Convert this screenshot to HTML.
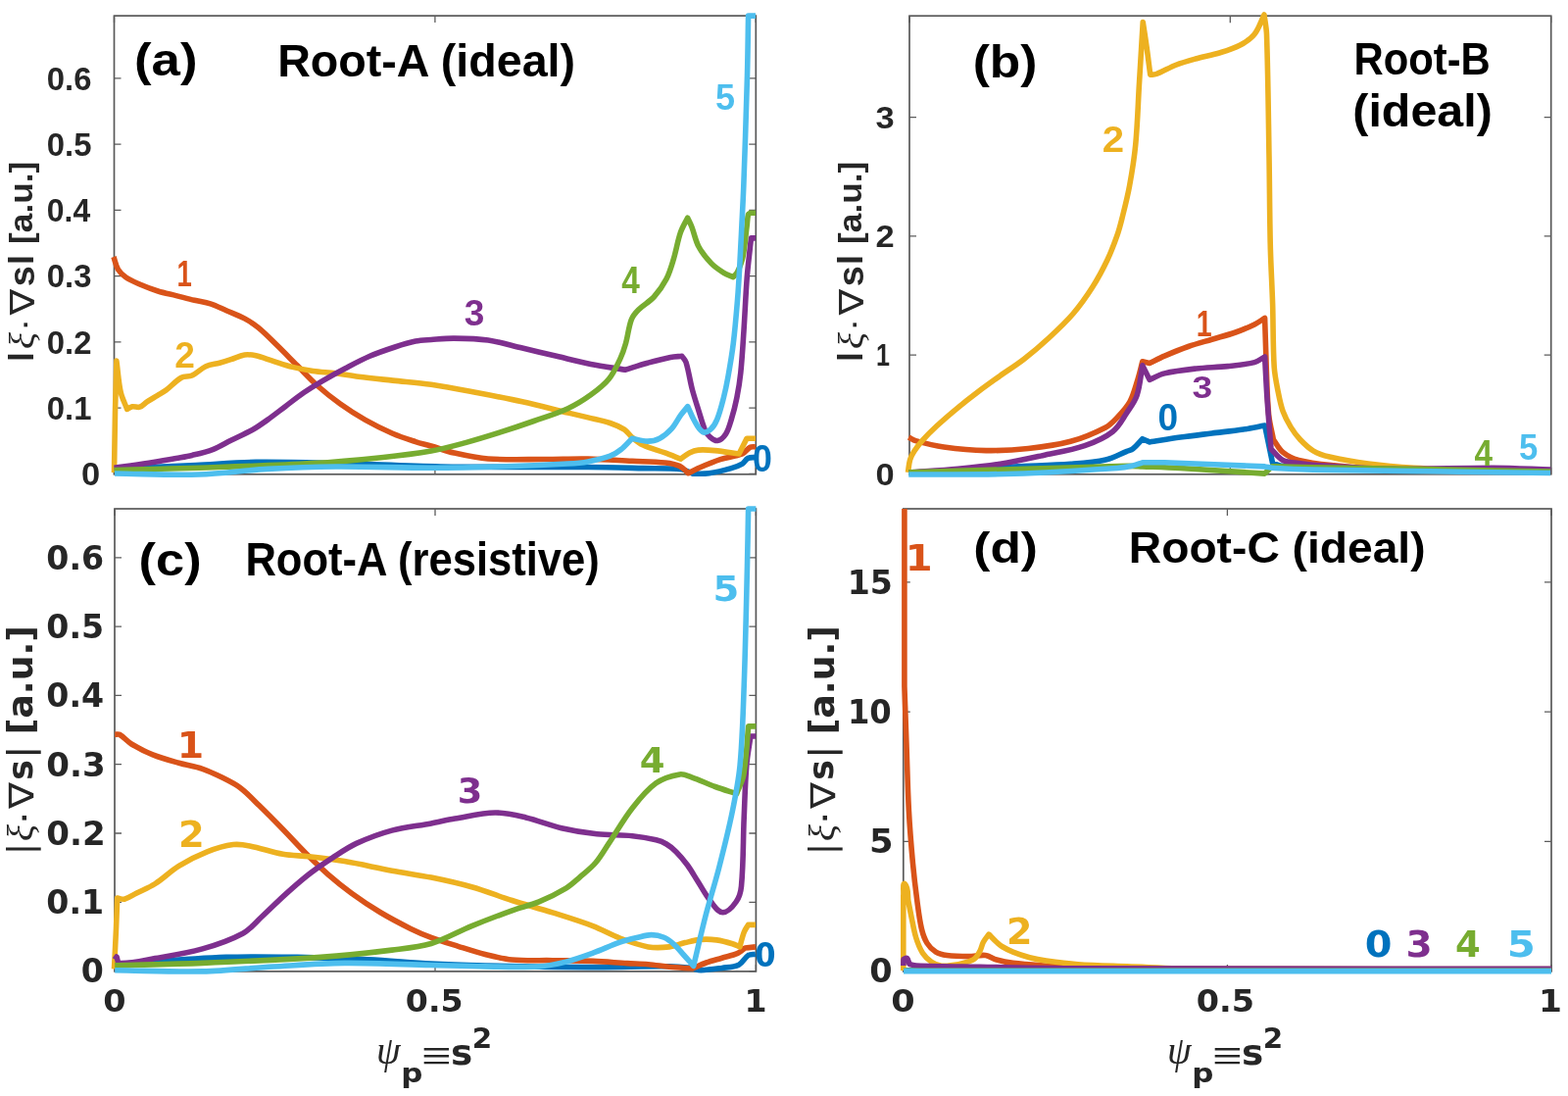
<!DOCTYPE html><html><head><meta charset='utf-8'><title>Figure</title><style>html,body{margin:0;padding:0;background:#fff;}svg{display:block;}</style></head><body>
<svg width='1600' height='1118' viewBox='0 0 1600 1118'>
<rect width='1600' height='1118' fill='#fff'/>
<path d='M116.5 483.3h7 M771.3 483.3h-7 M116.5 416.05h7 M771.3 416.05h-7 M116.5 348.8h7 M771.3 348.8h-7 M116.5 281.55h7 M771.3 281.55h-7 M116.5 214.3h7 M771.3 214.3h-7 M116.5 147.05h7 M771.3 147.05h-7 M116.5 79.8h7 M771.3 79.8h-7 M116.5 483.8v-7 M116.5 16.1v7 M443.9 483.8v-7 M443.9 16.1v7 M771.3 483.8v-7 M771.3 16.1v7' stroke='#5c5c5c' stroke-width='1.3' fill='none'/>
<rect x='116.5' y='16.1' width='654.8' height='467.7' fill='none' stroke='#595959' stroke-width='1.7'/>
<g fill='none' stroke-linejoin='round' stroke-linecap='butt' stroke-width='5.6'>
<path d='M116.5 478.4 C144.33 477.1 172.17 475.85 200 474.5 C220.4 473.51 240.78 471.67 261.2 471.4 C288.33 471.04 315.47 471.94 342.6 472.6 C378.24 473.47 413.85 475.46 449.5 476 C499.66 476.76 549.83 476.11 600 476.5 C618.74 476.65 637.47 477.17 656.2 477.6 C669.33 477.9 682.54 477.26 695.6 478.7 C699.63 479.15 703.13 481.7 706.9 483.2 C712.5 483.03 718.15 483.49 723.7 482.7 C731.31 481.62 738.8 479.7 746.2 477.6 C750.1 476.49 754.02 475.18 757.5 473.1 C759.77 471.75 760.74 468.67 763.1 467.5 C765.48 466.32 768.37 466.77 771 466.4' stroke='#0072BD'/>
<path d='M116 262 C117.5 266.3 118.16 270.99 120.5 274.9 C122.46 278.17 125.45 280.85 128.6 283 C132.91 285.94 137.81 287.94 142.6 290 C148.69 292.61 154.88 295.03 161.2 297 C167.3 298.9 173.6 300.05 179.8 301.6 C186 303.15 192.17 304.84 198.4 306.3 C203.81 307.57 209.41 308.11 214.7 309.8 C220.29 311.59 225.52 314.36 230.9 316.7 C237.12 319.4 243.53 321.7 249.5 324.9 C254.44 327.55 259.17 330.64 263.5 334.2 C270.04 339.57 275.93 345.7 282 351.6 C289.1 358.5 295.99 365.61 303 372.6 C309.99 379.58 316.63 386.93 324 393.5 C331.38 400.08 339.15 406.25 347.2 412 C355.44 417.9 363.98 423.41 372.8 428.4 C381.84 433.52 391.17 438.17 400.7 442.3 C408.26 445.58 416.15 448.06 424 450.6 C429.26 452.3 434.69 453.46 440 455 C447.79 457.26 455.39 460.23 463.3 462 C474.75 464.57 486.29 467.18 498 468 C517.39 469.35 536.87 468.48 556.3 468.5 C570.87 468.51 585.44 467.8 600 468.1 C615.01 468.4 630 469.56 645 470.3 C656.23 470.86 667.51 470.82 678.7 472 C683.7 472.53 688.82 473.33 693.4 475.4 C696.92 476.99 699.4 480.27 702.4 482.7 C705.77 481 709.04 479.1 712.5 477.6 C719.91 474.39 727.32 471.09 735 468.6 C742.35 466.21 750.34 465.92 757.5 463 C760.72 461.69 762.34 457.85 765.4 456.2 C767.05 455.31 769.13 455.87 771 455.7' stroke='#D95319'/>
<path d='M116.5 482 C116.83 461.33 117.06 440.66 117.5 420 C117.86 402.66 118.43 385.33 118.9 368 C120.33 378.73 120.89 389.62 123.2 400.2 C124.51 406.19 127.53 411.67 129.7 417.4 C131.47 416.53 133.06 415.13 135 414.8 C137.5 414.37 140.19 415.99 142.6 415.2 C145.48 414.26 147.45 411.55 150 409.9 C153.53 407.61 157.22 405.6 160.8 403.4 C163.69 401.63 166.69 400.03 169.4 398 C174.78 393.96 179.14 388.5 185 385.2 C188.26 383.36 192.6 384.56 196 383 C201.09 380.66 204.9 376.03 210 373.7 C214.37 371.7 219.36 371.47 224 370.2 C227.9 369.13 231.76 367.94 235.6 366.7 C240.26 365.2 244.66 362.74 249.5 362 C253.36 361.41 257.38 361.99 261.2 362.8 C266.74 363.97 272 366.21 277.4 367.9 C284.4 370.08 291.29 372.62 298.4 374.4 C305.28 376.12 312.28 377.4 319.3 378.4 C327.03 379.5 334.86 379.73 342.6 380.7 C350.36 381.67 358.04 383.21 365.8 384.2 C377.41 385.68 389.06 386.83 400.7 388.1 C413.8 389.53 426.96 390.42 440 392.3 C455.58 394.55 471.03 397.59 486.5 400.5 C502.03 403.42 517.56 406.4 533 409.8 C548.57 413.23 564 417.27 579.5 421 C586.33 422.64 593.17 424.23 600 425.9 C607.51 427.73 615.16 429.07 622.5 431.5 C627.58 433.19 632.61 435.29 637.1 438.2 C640.22 440.23 642.13 443.73 645 446.1 C648.52 449.01 652.06 452.06 656.2 454 C663.4 457.37 671.24 459.15 678.7 461.9 C684.01 463.85 689.23 466.03 694.5 468.1 C697.5 466.03 700.24 463.53 703.5 461.9 C706.31 460.49 709.37 459.38 712.5 459.1 C718.11 458.6 723.79 459.07 729.4 459.6 C737.67 460.38 745.87 461.87 754.1 463 L762 447.2 L771 447.2' stroke='#EDB120'/>
<path d='M116.5 477.2 C122.1 476.43 127.71 475.71 133.3 474.9 C141.04 473.78 148.78 472.65 156.5 471.4 C164.28 470.15 172.04 468.78 179.8 467.4 C185.21 466.44 190.66 465.66 196 464.4 C203.07 462.73 210.21 461.19 217 458.6 C223.48 456.13 229.4 452.4 235.6 449.3 C243.33 445.43 251.26 441.94 258.8 437.7 C263.68 434.96 268.24 431.66 272.8 428.4 C279.11 423.89 285.19 419.06 291.4 414.4 C297.59 409.76 303.62 404.89 310 400.5 C316.03 396.35 322.28 392.5 328.6 388.8 C336.25 384.33 344.05 380.1 351.9 376 C360.32 371.6 368.68 367.06 377.4 363.3 C385.74 359.71 394.37 356.82 403 354 C409.91 351.75 416.87 349.54 424 348.1 C429.25 347.04 434.66 346.91 440 346.5 C447.76 345.91 455.52 345.03 463.3 345.1 C474.92 345.2 486.6 345.35 498.1 347 C509.92 348.7 521.37 352.38 533 355.1 C544.64 357.82 556.26 360.58 567.9 363.3 C579.53 366.02 591.09 369.07 602.8 371.4 C614.37 373.7 626.07 375.27 637.7 377.2 C645.43 374.87 653.11 372.34 660.9 370.2 C668.62 368.08 676.35 365.95 684.2 364.4 C688.01 363.65 691.93 363.67 695.8 363.3 C697.2 365.37 699.26 367.12 700 369.5 C702.83 378.61 703.98 388.17 706.4 397.4 C708.29 404.61 710.67 411.69 712.9 418.8 C714.94 425.29 716.61 431.91 719.2 438.2 C720.24 440.71 721.65 443.22 723.7 445 C726.12 447.1 729.02 449.93 732.2 449.5 C735.77 449.01 738.63 445.71 740.6 442.7 C743.45 438.34 744.68 433.09 746.2 428.1 C748.45 420.7 750.38 413.19 751.9 405.6 C753.58 397.2 754.91 388.72 755.8 380.2 C757.28 365.94 758.05 351.61 759 337.3 C760.19 319.41 760.85 301.48 762.2 283.6 C763.01 272.87 764.37 262.2 765.5 251.5 C765.8 248.63 766.17 245.77 766.5 242.9 L771 242.9' stroke='#7E2F8E'/>
<path d='M116.5 479.5 C145.33 478.73 174.17 478.18 203 477.2 C241.77 475.88 280.56 474.79 319.3 472.6 C342.58 471.29 365.81 469.12 389 466.7 C406.05 464.92 423.11 462.97 440 460 C451.78 457.93 463.35 454.71 474.9 451.6 C486.62 448.44 498.23 444.86 509.8 441.2 C521.5 437.5 533.12 433.57 544.7 429.5 C556.36 425.4 568.27 421.86 579.5 416.7 C587.72 412.92 595.46 408.09 602.8 402.8 C609.49 397.98 616.2 392.9 621.4 386.5 C626.42 380.31 629.6 372.81 633 365.6 C635.36 360.6 637.09 355.31 638.6 350 C640.86 342.06 641.38 333.62 644.3 325.9 C645.75 322.06 648.6 318.8 651.5 315.9 C656.29 311.11 662.65 308.01 667.2 303 C672.27 297.41 676.62 291.09 680.1 284.4 C683.37 278.12 685.25 271.18 687.3 264.4 C690.02 255.43 691.39 246.07 694.4 237.2 C696.18 231.95 699.2 227.2 701.6 222.2 C703.03 225.3 704.67 228.31 705.9 231.5 C708.44 238.09 709.56 245.28 712.9 251.5 C716.27 257.79 720.86 263.45 725.8 268.6 C729.51 272.46 734.05 275.47 738.6 278.3 C741.6 280.17 745.07 281.17 748.3 282.6 C749.73 280.8 751.61 279.28 752.6 277.2 C754.88 272.4 756.94 267.41 758 262.2 C760.16 251.59 760.82 240.74 762.2 230 C762.69 226.2 762.51 222.27 763.6 218.6 C763.86 217.71 765.2 217.67 766 217.2 L771 217.2' stroke='#77AC30'/>
<path d='M117 483 C145.67 483.33 174.34 484.85 203 484 C226.33 483.31 249.5 479.74 272.8 478.4 C296.04 477.07 319.32 476.17 342.6 476 C375.07 475.77 407.53 477.2 440 477.2 C463.27 477.2 486.54 476.7 509.8 476 C533.04 475.3 556.28 474.31 579.5 473 C586.36 472.61 593.24 472.13 600 470.9 C607.61 469.52 615.24 467.87 622.5 465.2 C626.58 463.7 630.3 461.22 633.7 458.5 C637.86 455.17 641.23 450.97 645 447.2 C650.23 448.17 655.38 450.1 660.7 450.1 C664.94 450.1 669.34 449.17 673.1 447.2 C677.82 444.72 681.92 441.05 685.5 437.1 C689.13 433.09 691.33 427.98 694.5 423.6 C696.77 420.47 699.37 417.6 701.8 414.6 C703.87 419.1 705.49 423.83 708 428.1 C710.59 432.5 712.62 437.88 717 440.5 C719.35 441.91 722.81 439.98 724.9 438.2 C727.98 435.58 730.05 431.83 731.6 428.1 C734.6 420.86 736.43 413.18 738.4 405.6 C740.2 398.64 741.63 391.58 742.9 384.5 C744.94 373.11 746.9 361.69 748.3 350.2 C750.13 335.21 751.35 320.15 752.6 305.1 C753.49 294.38 754.09 283.64 754.7 272.9 C755.52 258.6 756.19 244.3 756.9 230 C757.56 216.67 758.31 203.34 758.8 190 C760.18 152.34 761.46 114.67 762.5 77 C763.06 56.7 763.23 36.4 763.6 16.1 L771 16.1' stroke='#4DBEEE'/>
</g>
<path d='M928 483.3h7 M1582.7 483.3h-7 M928 362.05h7 M1582.7 362.05h-7 M928 240.8h7 M1582.7 240.8h-7 M928 119.55h7 M1582.7 119.55h-7 M928 483.8v-7 M928 16.2v7 M1255.3 483.8v-7 M1255.3 16.2v7 M1582.7 483.8v-7 M1582.7 16.2v7' stroke='#5c5c5c' stroke-width='1.3' fill='none'/>
<rect x='928' y='16.2' width='654.7' height='467.6' fill='none' stroke='#595959' stroke-width='1.7'/>
<g fill='none' stroke-linejoin='round' stroke-linecap='butt' stroke-width='5.6'>
<path d='M928 482.5 C963.63 480.37 999.26 478.09 1034.9 476.1 C1054.06 475.03 1073.27 474.75 1092.4 473.3 C1104.42 472.39 1116.54 471.66 1128.3 469 C1135.87 467.29 1142.7 463.2 1149.9 460.3 C1151.97 459.47 1154.35 459.18 1156.1 457.8 C1159.76 454.9 1162.57 451.07 1165.8 447.7 L1173 450.9 C1183.47 449.3 1193.91 447.57 1204.4 446.1 C1215.12 444.6 1225.86 443.35 1236.6 442 C1247.33 440.65 1258.1 439.59 1268.8 438 C1276.11 436.92 1283.33 435.33 1290.6 434 L1298.6 472.6 C1302.1 473.57 1305.49 475.07 1309.1 475.5 C1319.35 476.71 1329.68 477.27 1340 477.5 C1420.66 479.27 1501.33 480.17 1582 481.5' stroke='#0072BD'/>
<path d='M927.2 446 C929.6 447.2 931.82 448.88 934.4 449.6 C943.84 452.23 953.39 454.65 963.1 456 C977.38 457.99 991.79 459.35 1006.2 459.6 C1020.58 459.85 1035 459.04 1049.3 457.5 C1063.78 455.94 1078.35 454.14 1092.4 450.3 C1104.84 446.9 1116.83 441.78 1128.3 435.9 C1132.87 433.56 1136.48 429.63 1140 425.9 C1144.72 420.9 1149.63 415.85 1152.9 409.8 C1156.69 402.8 1158.51 394.89 1160.9 387.3 C1162.81 381.21 1164.17 374.97 1165.8 368.8 L1173 370.4 C1178.1 367.97 1183.1 365.32 1188.3 363.1 C1196.28 359.69 1204.31 356.37 1212.5 353.5 C1220.42 350.73 1228.56 348.61 1236.6 346.2 C1244.66 343.78 1252.86 341.79 1260.8 339 C1267.38 336.69 1273.83 333.95 1280.1 330.9 C1283.79 329.11 1287.1 326.63 1290.6 324.5 C1291.13 341.13 1291.52 357.77 1292.2 374.4 C1292.86 390.51 1293.04 406.66 1294.6 422.7 C1295.45 431.41 1297.8 439.9 1299.4 448.5 C1302.63 452.8 1304.92 458.01 1309.1 461.4 C1313.76 465.17 1319.4 467.9 1325.2 469.4 C1337.02 472.45 1349.26 473.6 1361.4 474.9 C1380.72 476.97 1400.09 478.65 1419.5 479.5 C1446.31 480.68 1473.16 480.67 1500 481 C1527.33 481.34 1554.67 481.33 1582 481.5' stroke='#D95319'/>
<path d='M926.5 481.9 C927.2 477.6 927.36 473.18 928.6 469 C929.52 465.9 931.14 463.02 932.9 460.3 C935.5 456.29 938.42 452.47 941.6 448.9 C946.1 443.85 950.93 439.09 955.9 434.5 C962.9 428.04 970.16 421.87 977.5 415.8 C984.07 410.37 990.8 405.13 997.6 400 C1004.97 394.45 1012.49 389.1 1020 383.75 C1028.29 377.85 1036.96 372.48 1045 366.25 C1053.64 359.55 1061.97 352.43 1070 345 C1078.65 337 1087.33 328.95 1095 320 C1102.38 311.39 1108.91 302.06 1115 292.5 C1120.61 283.69 1125.51 274.43 1130 265 C1133.86 256.9 1137.01 248.46 1140 240 C1142.02 234.28 1143.53 228.39 1145 222.5 C1147.7 211.71 1150.5 200.94 1152.5 190 C1155.08 175.92 1157.39 161.75 1158.75 147.5 C1160.73 126.72 1161.25 105.83 1162.5 85 C1163.75 64.17 1165 43.33 1166.25 22.5 C1167.5 30.83 1168.84 39.15 1170 47.5 C1171.34 57.07 1172.5 66.67 1173.75 76.25 C1175.83 76 1178.04 76.25 1180 75.5 C1186.86 72.89 1193.15 68.9 1200 66.25 C1206.51 63.73 1213.27 61.87 1220 60 C1228.28 57.7 1236.79 56.26 1245 53.75 C1251.81 51.67 1258.72 49.61 1265 46.25 C1270.51 43.3 1276.1 39.88 1280 35 C1284.66 29.18 1286.67 21.67 1290 15 C1290.83 21.67 1292.27 28.29 1292.5 35 C1293.94 76.65 1294.27 118.33 1295 160 C1295.52 190 1295.53 220.01 1296.25 250 C1296.73 270.01 1297.96 289.99 1298.6 310 C1299.28 331.46 1298.85 352.97 1300.2 374.4 C1300.75 383.09 1302.61 391.66 1304.3 400.2 C1305.58 406.7 1306.85 413.27 1309.1 419.5 C1311.14 425.14 1313.98 430.48 1317.1 435.6 C1319.9 440.19 1323.1 444.59 1326.8 448.5 C1330.78 452.71 1335 456.87 1340 459.8 C1345.12 462.8 1350.92 464.64 1356.7 466 C1369.75 469.06 1383.01 471.27 1396.3 473 C1411.73 475.01 1427.26 476.33 1442.8 477.2 C1466.04 478.5 1489.33 479.03 1512.6 479.5 C1535.73 479.97 1558.87 479.83 1582 480' stroke='#EDB120'/>
<path d='M927.2 481.9 C943.97 480.7 960.76 479.84 977.5 478.3 C991.9 476.97 1006.31 475.55 1020.6 473.3 C1035.07 471.02 1049.38 467.81 1063.7 464.7 C1078.12 461.57 1092.83 459.37 1106.8 454.6 C1116.93 451.14 1127.06 446.78 1135.5 440.2 C1141.81 435.28 1145.45 427.65 1149.9 421 C1153.67 415.36 1157.98 409.84 1160.1 403.4 C1163.35 393.55 1163.9 383 1165.8 372.8 L1173 387.3 C1178.1 385.17 1182.92 382.18 1188.3 380.9 C1198.86 378.39 1209.71 377.22 1220.5 376 C1231.19 374.79 1242 374.75 1252.7 373.6 C1261.88 372.61 1271.16 371.89 1280.1 369.6 C1283.96 368.61 1287.1 365.8 1290.6 363.9 C1291.4 378.13 1292.03 392.38 1293 406.6 C1294.17 423.78 1295.67 440.93 1297 458.1 C1301.03 461.87 1304.19 466.88 1309.1 469.4 C1313.97 471.9 1319.8 471.74 1325.2 472.6 C1330.1 473.38 1335.04 474 1340 474.3 C1366.49 475.93 1392.97 477.98 1419.5 478.4 C1454.4 478.95 1489.3 477.07 1524.2 477.2 C1543.58 477.27 1562.93 478.4 1582.3 479' stroke='#7E2F8E'/>
<path d='M927.2 481.9 C1001.43 479.73 1075.66 477.27 1149.9 475.4 C1155.2 475.27 1160.5 475.7 1165.8 475.9 C1178.67 476.4 1191.54 476.76 1204.4 477.5 C1233.15 479.16 1261.87 481.23 1290.6 483.1 L1297.8 475.9 C1311.87 476.17 1325.93 476.45 1340 476.7 C1420.67 478.15 1501.33 479.57 1582 481' stroke='#77AC30'/>
<path d='M927.2 484 C963.1 483.77 999.02 484.4 1034.9 483.3 C1069.97 482.23 1105 479.9 1140 477.5 C1145.42 477.13 1150.8 476.17 1156.1 475 C1159.42 474.27 1162.57 472.87 1165.8 471.8 C1173.3 471.8 1180.8 471.55 1188.3 471.8 C1222.41 472.92 1256.5 474.53 1290.6 475.9 C1294.07 476.43 1297.5 477.27 1301 477.5 C1313.98 478.34 1326.99 478.87 1340 479.1 C1420.66 480.54 1501.33 481.37 1582 482.5' stroke='#4DBEEE'/>
</g>
<path d='M117 990.6h7 M771.4 990.6h-7 M117 920.3h7 M771.4 920.3h-7 M117 850h7 M771.4 850h-7 M117 779.7h7 M771.4 779.7h-7 M117 709.4h7 M771.4 709.4h-7 M117 639.1h7 M771.4 639.1h-7 M117 568.8h7 M771.4 568.8h-7 M117 990.9v-7 M117 519v7 M444 990.9v-7 M444 519v7 M771.4 990.9v-7 M771.4 519v7' stroke='#5c5c5c' stroke-width='1.3' fill='none'/>
<rect x='117' y='519' width='654.4' height='471.9' fill='none' stroke='#595959' stroke-width='1.7'/>
<g fill='none' stroke-linejoin='round' stroke-linecap='butt' stroke-width='5.6'>
<path d='M117.2 983.6 C155.07 981.2 192.89 977.87 230.8 976.4 C254.92 975.47 279.07 976 303.2 976.4 C327.38 976.8 351.55 977.63 375.7 978.8 C397.15 979.84 418.55 981.89 440 983 C458.32 983.95 476.66 984.5 495 985 C517.93 985.63 540.86 986.1 563.8 986.4 C581.2 986.63 598.6 986.69 616 986.6 C638.33 986.49 660.67 985.6 683 985.8 C690.15 985.86 697.3 986.56 704.4 987.4 C708.05 987.83 711.53 989.6 715.2 989.6 C722.4 989.6 729.57 988.4 736.7 987.4 C742.48 986.59 748.65 986.73 753.9 984.2 C758 982.23 759.65 976.93 763.5 974.5 C765.64 973.15 768.5 973.77 771 973.4' stroke='#0072BD'/>
<path d='M117.2 749.3 C118.8 749.3 120.61 748.51 122 749.3 C126.51 751.87 129.76 756.3 134.2 759 C141.12 763.2 148.38 766.9 155.9 769.9 C164.53 773.35 173.56 775.76 182.5 778.3 C190.46 780.56 198.75 781.68 206.6 784.3 C213.3 786.53 219.69 789.64 226 792.8 C232.6 796.11 239.39 799.26 245.3 803.7 C252.35 809 258.28 815.64 264.6 821.8 C272.75 829.75 280.75 837.85 288.7 846 C296.85 854.35 304.64 863.06 312.9 871.3 C319.94 878.33 327.09 885.27 334.6 891.8 C342.4 898.58 350.44 905.12 358.8 911.2 C368.19 918.03 377.84 924.53 387.8 930.5 C398 936.61 408.54 942.13 419.2 947.4 C425.96 950.74 432.93 953.68 440 956.3 C449.04 959.65 458.29 962.42 467.5 965.3 C476.63 968.16 485.72 971.19 495 973.5 C504.07 975.76 513.19 978.16 522.5 979 C536.21 980.24 550.03 979.47 563.8 979.7 C577.53 979.93 591.27 979.88 605 980.4 C616.68 980.84 628.33 981.92 640 982.6 C647.16 983.02 654.35 983.08 661.5 983.7 C668.69 984.32 675.81 985.61 683 986.3 C690.85 987.05 698.73 987.43 706.6 988 C711.27 986 715.82 983.71 720.6 982 C725.87 980.11 731.33 978.8 736.7 977.2 C742.07 975.6 747.66 974.62 752.8 972.4 C755.63 971.18 757.8 968.8 760.3 967 L771 965.9' stroke='#D95319'/>
<path d='M116.5 988.5 C117.17 974.8 117.9 961.1 118.5 947.4 C118.96 936.94 119.3 926.47 119.7 916 C122.1 916.4 124.54 917.79 126.9 917.2 C131.27 916.11 134.97 913.21 139 911.2 C145.44 907.98 152.23 905.38 158.3 901.5 C166.79 896.08 173.92 888.67 182.5 883.4 C191.68 877.76 201.37 872.84 211.4 868.9 C219.96 865.54 228.89 862.86 238 861.6 C243.6 860.83 249.35 861.84 254.9 862.9 C266.3 865.08 277.27 869.26 288.7 871.3 C297.46 872.87 306.46 872.67 315.3 873.7 C327.4 875.11 339.5 876.54 351.5 878.6 C367.71 881.38 383.73 885.19 399.9 888.2 C413.23 890.69 426.71 892.39 440 895.1 C453.86 897.93 467.7 900.94 481.3 904.8 C495.22 908.75 508.7 914.13 522.5 918.5 C536.2 922.84 550.1 926.56 563.8 930.9 C577.6 935.27 591.47 939.47 605 944.6 C614.43 948.18 623.16 953.44 632.6 957 C642.03 960.56 651.57 964.15 661.5 965.9 C668.56 967.15 675.88 966.71 683 965.9 C688.52 965.27 693.69 962.86 699.1 961.6 C704.43 960.36 709.75 958.86 715.2 958.4 C720.55 957.95 725.98 958.19 731.3 958.9 C736.77 959.63 742.11 961.13 747.4 962.7 C750.01 963.47 752.4 964.83 754.9 965.9 C756.33 960.9 757.34 955.76 759.2 950.9 C760.23 948.21 762.07 945.9 763.5 943.4 L771 943.4' stroke='#EDB120'/>
<path d='M117.2 978.8 L119 976 C120 978.13 119.65 982.3 122 982.4 C134.2 982.9 146.27 979.66 158.3 977.6 C174.49 974.83 190.8 972.39 206.6 967.9 C220.71 963.89 234.79 959.17 247.7 952.2 C255.23 948.14 260.69 941.07 267 935.3 C275.19 927.8 282.95 919.83 291.2 912.4 C299.05 905.33 306.95 898.28 315.3 891.8 C323.07 885.77 331.25 880.26 339.5 874.9 C347.36 869.79 355.08 864.32 363.6 860.4 C375.31 855.01 387.45 850.44 399.9 847.1 C413.02 843.58 426.65 842.39 440 839.9 C448.08 838.39 456.09 836.46 464.2 835.1 C477.83 832.82 491.38 829.23 505.2 829 C515.79 828.82 526.28 831.51 536.6 833.9 C548.9 836.75 560.61 841.83 572.9 844.7 C584.82 847.48 596.94 849.46 609.1 850.8 C621.11 852.13 633.28 851.51 645.3 852.7 C653.44 853.51 661.54 854.9 669.5 856.8 C673.17 857.68 676.75 859.08 680 861 C683.66 863.16 687 865.9 690 868.9 C694.2 873.1 698 877.71 701.5 882.5 C705.35 887.76 708.48 893.52 712 899 C716.51 906.02 720.35 913.52 725.6 920 C728.99 924.18 732.32 930.7 737.7 930.7 C743.42 930.7 747.82 924.68 751.1 920 C754.35 915.37 755.97 909.54 756.5 903.9 C758.69 880.75 758.2 857.43 759.2 834.2 C759.97 816.3 760.36 798.36 761.8 780.5 C762.6 770.6 764.53 760.83 765.9 751 L771.2 751' stroke='#7E2F8E'/>
<path d='M117.2 984.8 C147 984 176.81 983.59 206.6 982.4 C246.88 980.79 287.18 979.17 327.4 976.4 C351.63 974.73 375.79 972.08 399.9 969.1 C413.34 967.44 427.03 966.4 440 962.5 C454.37 958.18 467.41 950.27 481.3 944.6 C494.92 939.04 508.66 933.78 522.5 928.8 C531.57 925.54 541.09 923.58 550 919.9 C559.48 915.99 568.71 911.38 577.5 906.1 C582.54 903.07 586.84 898.94 591.3 895.1 C596.95 890.23 602.93 885.65 607.8 880 C612.97 874 616.79 866.97 621.2 860.4 C629.29 848.37 636.36 835.61 645.3 824.2 C652.52 815 659.97 805.57 669.5 798.8 C676.48 793.84 685.15 791.3 693.6 789.9 C697.69 789.22 701.78 791.44 705.7 792.8 C713.91 795.65 721.74 799.5 729.9 802.5 C737.05 805.13 744.37 807.3 751.6 809.7 C754 803.27 757.61 797.16 758.8 790.4 C761.67 774.07 762.07 757.4 763.7 740.9 L771.4 740.9' stroke='#77AC30'/>
<path d='M117.2 989.7 C147 990.1 176.81 991.58 206.6 990.9 C230.78 990.35 254.85 987.42 279 986 C303.15 984.58 327.3 982.63 351.5 982.4 C381.01 982.13 410.5 983.78 440 984.5 C458.33 984.95 476.66 985.67 495 985.9 C513.33 986.13 531.7 986.96 550 985.9 C559.29 985.36 568.47 983.35 577.5 981.1 C586.85 978.77 595.94 975.47 605 972.2 C614.31 968.84 623.25 964.45 632.6 961.2 C638.5 959.15 644.62 957.74 650.7 956.3 C655.32 955.21 659.95 953.6 664.7 953.6 C669.09 953.6 673.57 954.56 677.6 956.3 C681.6 958.03 685.05 960.9 688.3 963.8 C691.89 967 694.77 970.93 698 974.5 C701.24 978.09 704.47 981.7 707.7 985.3 C711.87 968 715.73 950.62 720.2 933.4 C724.4 917.22 729.54 901.29 733.7 885.1 C738.5 866.42 743.23 847.7 747.1 828.8 C750.37 812.81 753.57 796.75 755.1 780.5 C757.61 753.75 758.22 726.85 759.2 700 C760.69 659.01 761.5 618 762.5 577 C762.97 557.67 763.23 538.33 763.6 519 L771.4 519' stroke='#4DBEEE'/>
</g>
<path d='M921.8 990.7h7 M1583 990.7h-7 M921.8 858.45h7 M1583 858.45h-7 M921.8 726.2h7 M1583 726.2h-7 M921.8 593.95h7 M1583 593.95h-7 M921.8 990.9v-7 M921.8 519v7 M1252.4 990.9v-7 M1252.4 519v7 M1583 990.9v-7 M1583 519v7' stroke='#5c5c5c' stroke-width='1.3' fill='none'/>
<rect x='921.8' y='519' width='661.2' height='471.9' fill='none' stroke='#595959' stroke-width='1.7'/>
<g fill='none' stroke-linejoin='round' stroke-linecap='butt' stroke-width='5.6'>
<path d='M922 990 L1583 990' stroke='#0072BD'/>
<path d='M922.9 519 L922.9 700 C923.6 720 924.29 740 925 760 C925.79 782.33 926.21 804.68 927.4 827 C928.34 844.69 929.78 862.36 931.4 880 C932.61 893.16 934.15 906.3 935.9 919.4 C937.15 928.8 938.22 938.27 940.4 947.5 C941.6 952.57 943.26 957.67 946 962.1 C948.23 965.71 951.38 968.88 955 971.1 C958.33 973.14 962.33 973.98 966.2 974.5 C973.64 975.49 981.19 975.6 988.7 975.6 C994.35 975.6 1000 973.82 1005.6 974.5 C1009.63 974.99 1013 977.9 1016.9 979 C1022.4 980.55 1028.03 981.71 1033.7 982.4 C1044.92 983.77 1056.22 984.42 1067.5 985.2 C1074.99 985.72 1082.49 986.09 1090 986.3 C1110 986.86 1130 987.22 1150 987.5 C1183.33 987.96 1216.67 988.38 1250 988.5 C1361 988.88 1472 988.83 1583 989' stroke='#D95319'/>
<path d='M921.8 990 L921.8 914 C922.37 909.97 920.7 898.94 923.5 901.9 C927.58 906.22 925.76 913.57 926.9 919.4 C927.99 925 929.03 930.62 930.2 936.2 C931.63 942.98 932.62 949.89 934.7 956.5 C936.41 961.94 938.43 967.4 941.5 972.2 C943.79 975.77 946.99 978.81 950.5 981.2 C953.49 983.24 957.02 984.63 960.6 985.2 C964.33 985.79 968.16 985.07 971.9 984.6 C975.68 984.13 979.45 983.49 983.1 982.4 C986.99 981.24 991.13 980.3 994.4 977.9 C997 975.99 998.48 972.85 1000 970 C1001.51 967.17 1001.89 963.83 1003.4 961 C1004.92 958.15 1007.13 955.73 1009 953.1 C1011.63 955.73 1014.16 958.48 1016.9 961 C1018.66 962.62 1020.45 964.27 1022.5 965.5 C1026.08 967.65 1029.82 969.55 1033.7 971.1 C1039.21 973.3 1044.87 975.17 1050.6 976.7 C1056.15 978.18 1061.81 979.28 1067.5 980.1 C1078.29 981.65 1089.12 983.05 1100 983.8 C1116.64 984.95 1133.33 985.2 1150 985.8 C1175 986.7 1199.99 988.14 1225 988.3 C1344.33 989.04 1463.67 988.43 1583 988.5' stroke='#EDB120'/>
<path d='M921.8 985 L922 978.5 C923.17 978.17 924.57 976.72 925.5 977.5 C927.16 978.89 927.17 981.5 928 983.5 C930.33 984 932.62 984.91 935 985 C956.65 985.84 978.33 985.93 1000 986.3 C1033.33 986.87 1066.66 987.69 1100 987.8 C1261 988.35 1422 988.13 1583 988.3' stroke='#7E2F8E'/>
<path d='M922 990.3 L1583 990.3' stroke='#77AC30'/>
<path d='M922 990.6 L1583 990.6' stroke='#4DBEEE'/>
</g>
<g id='ta1' transform='matrix(1.2 0 0 1.07 137 76.69)'><text x='0' y='0' font-family="'Liberation Sans', Arial, sans-serif" font-weight='bold' font-size='44' fill='#000'>(a)</text></g>
<g id='ta2' transform='matrix(1.06 0 0 1.07 283.13 77.84)'><text x='0' y='0' font-family="'Liberation Sans', Arial, sans-serif" font-weight='bold' font-size='44' fill='#000'>Root-A (ideal)</text></g>
<g id='tb1' transform='matrix(1.17 0 0 1.07 992.65 79.15)'><text x='0' y='0' font-family="'Liberation Sans', Arial, sans-serif" font-weight='bold' font-size='44' fill='#000'>(b)</text></g>
<g id='tb2' transform='matrix(0.95 0 0 1.06 1381.56 76.25)'><text x='0' y='0' font-family="'Liberation Sans', Arial, sans-serif" font-weight='bold' font-size='44' fill='#000'>Root-B</text></g>
<g id='tb3' transform='matrix(1.1 0 0 1.04 1380.31 129.42)'><text x='0' y='0' font-family="'Liberation Sans', Arial, sans-serif" font-weight='bold' font-size='44' fill='#000'>(ideal)</text></g>
<g id='tc1' transform='matrix(1.19 0 0 1.05 141.62 586.78)'><text x='0' y='0' font-family="'Liberation Sans', Arial, sans-serif" font-weight='bold' font-size='44' fill='#000'>(c)</text></g>
<g id='tc2' transform='matrix(0.99 0 0 1.11 250.42 587.01)'><text x='0' y='0' font-family="'Liberation Sans', Arial, sans-serif" font-weight='bold' font-size='44' fill='#000'>Root-A (resistive)</text></g>
<g id='td1' transform='matrix(1.17 0 0 1.02 993.25 573.78)'><text x='0' y='0' font-family="'Liberation Sans', Arial, sans-serif" font-weight='bold' font-size='44' fill='#000'>(d)</text></g>
<g id='td2' transform='matrix(1.05 0 0 1.02 1151.84 573.78)'><text x='0' y='0' font-family="'Liberation Sans', Arial, sans-serif" font-weight='bold' font-size='44' fill='#000'>Root-C (ideal)</text></g>
<g id='ya0' transform='matrix(1.11 0 0 1.05 82.89 494.9)'><text x='0' y='0' font-family="'Liberation Sans', Arial, sans-serif" font-weight='bold' font-size='31' fill='#262626'>0</text></g>
<g id='ya1' transform='matrix(1.06 0 0 1.07 47.74 427.85)'><text x='0' y='0' font-family="'Liberation Sans', Arial, sans-serif" font-weight='bold' font-size='31' fill='#262626'>0.1</text></g>
<g id='ya2' transform='matrix(1.06 0 0 1.07 47.74 360.6)'><text x='0' y='0' font-family="'Liberation Sans', Arial, sans-serif" font-weight='bold' font-size='31' fill='#262626'>0.2</text></g>
<g id='ya3' transform='matrix(1.06 0 0 1.07 47.74 293.35)'><text x='0' y='0' font-family="'Liberation Sans', Arial, sans-serif" font-weight='bold' font-size='31' fill='#262626'>0.3</text></g>
<g id='ya4' transform='matrix(1.03 0 0 1.07 47.77 226.1)'><text x='0' y='0' font-family="'Liberation Sans', Arial, sans-serif" font-weight='bold' font-size='31' fill='#262626'>0.4</text></g>
<g id='ya5' transform='matrix(1.06 0 0 1.07 47.74 158.85)'><text x='0' y='0' font-family="'Liberation Sans', Arial, sans-serif" font-weight='bold' font-size='31' fill='#262626'>0.5</text></g>
<g id='ya6' transform='matrix(1.06 0 0 1.07 47.74 91.6)'><text x='0' y='0' font-family="'Liberation Sans', Arial, sans-serif" font-weight='bold' font-size='31' fill='#262626'>0.6</text></g>
<g id='yb0' transform='matrix(1.11 0 0 1.04 893.59 494.7)'><text x='0' y='0' font-family="'Liberation Sans', Arial, sans-serif" font-weight='bold' font-size='31' fill='#262626'>0</text></g>
<g id='yb1' transform='matrix(0.81 0 0 1.04 894.07 373.45)'><text x='0' y='0' font-family="'Liberation Sans', Arial, sans-serif" font-weight='bold' font-size='31' fill='#262626'>1</text></g>
<g id='yb2' transform='matrix(1.11 0 0 1.04 893.59 252.2)'><text x='0' y='0' font-family="'Liberation Sans', Arial, sans-serif" font-weight='bold' font-size='31' fill='#262626'>2</text></g>
<g id='yb3' transform='matrix(1.11 0 0 1.04 893.59 130.95)'><text x='0' y='0' font-family="'Liberation Sans', Arial, sans-serif" font-weight='bold' font-size='31' fill='#262626'>3</text></g>
<g id='yc0' transform='matrix(1.07 0 0 1.07 82.86 1002.4)'><text x='0' y='0' font-family="'DejaVu Sans', 'Liberation Sans', sans-serif" font-weight='bold' font-size='31' fill='#262626'>0</text></g>
<g id='yc1' transform='matrix(1.07 0 0 1.07 47.35 932.1)'><text x='0' y='0' font-family="'DejaVu Sans', 'Liberation Sans', sans-serif" font-weight='bold' font-size='31' fill='#262626'>0.1</text></g>
<g id='yc2' transform='matrix(1.1 0 0 1.07 47.31 861.8)'><text x='0' y='0' font-family="'DejaVu Sans', 'Liberation Sans', sans-serif" font-weight='bold' font-size='31' fill='#262626'>0.2</text></g>
<g id='yc3' transform='matrix(1.1 0 0 1.07 47.31 791.5)'><text x='0' y='0' font-family="'DejaVu Sans', 'Liberation Sans', sans-serif" font-weight='bold' font-size='31' fill='#262626'>0.3</text></g>
<g id='yc4' transform='matrix(1.07 0 0 1.07 47.35 721.2)'><text x='0' y='0' font-family="'DejaVu Sans', 'Liberation Sans', sans-serif" font-weight='bold' font-size='31' fill='#262626'>0.4</text></g>
<g id='yc5' transform='matrix(1.07 0 0 1.07 47.35 650.9)'><text x='0' y='0' font-family="'DejaVu Sans', 'Liberation Sans', sans-serif" font-weight='bold' font-size='31' fill='#262626'>0.5</text></g>
<g id='yc6' transform='matrix(1.07 0 0 1.07 47.35 580.6)'><text x='0' y='0' font-family="'DejaVu Sans', 'Liberation Sans', sans-serif" font-weight='bold' font-size='31' fill='#262626'>0.6</text></g>
<g id='yd0' transform='matrix(1.08 0 0 1.06 887.24 1002.4)'><text x='0' y='0' font-family="'DejaVu Sans', 'Liberation Sans', sans-serif" font-weight='bold' font-size='31' fill='#262626'>0</text></g>
<g id='yd1' transform='matrix(1.14 0 0 1.06 887.12 870.15)'><text x='0' y='0' font-family="'DejaVu Sans', 'Liberation Sans', sans-serif" font-weight='bold' font-size='31' fill='#262626'>5</text></g>
<g id='yd2' transform='matrix(1.04 0 0 1.06 864.88 737.9)'><text x='0' y='0' font-family="'DejaVu Sans', 'Liberation Sans', sans-serif" font-weight='bold' font-size='31' fill='#262626'>10</text></g>
<g id='yd3' transform='matrix(1.07 0 0 1.06 864.79 605.65)'><text x='0' y='0' font-family="'DejaVu Sans', 'Liberation Sans', sans-serif" font-weight='bold' font-size='31' fill='#262626'>15</text></g>
<g id='xc0' transform='matrix(1.08 0 0 1.05 105.33 1032.2)'><text x='0' y='0' font-family="'DejaVu Sans', 'Liberation Sans', sans-serif" font-weight='bold' font-size='31' fill='#262626'>0</text></g>
<g id='xc1' transform='matrix(1.07 0 0 1.05 413.86 1032.2)'><text x='0' y='0' font-family="'DejaVu Sans', 'Liberation Sans', sans-serif" font-weight='bold' font-size='31' fill='#262626'>0.5</text></g>
<g id='xc2' transform='matrix(1.07 0 0 1.05 759.39 1032.2)'><text x='0' y='0' font-family="'DejaVu Sans', 'Liberation Sans', sans-serif" font-weight='bold' font-size='31' fill='#262626'>1</text></g>
<g id='xd0' transform='matrix(1.13 0 0 1.05 909.14 1032.2)'><text x='0' y='0' font-family="'DejaVu Sans', 'Liberation Sans', sans-serif" font-weight='bold' font-size='31' fill='#262626'>0</text></g>
<g id='xd1' transform='matrix(1.08 0 0 1.05 1220.84 1032.2)'><text x='0' y='0' font-family="'DejaVu Sans', 'Liberation Sans', sans-serif" font-weight='bold' font-size='31' fill='#262626'>0.5</text></g>
<g id='xd2' transform='matrix(1.11 0 0 1.05 1569.98 1032.2)'><text x='0' y='0' font-family="'DejaVu Sans', 'Liberation Sans', sans-serif" font-weight='bold' font-size='31' fill='#262626'>1</text></g>
<g id='la1' transform='matrix(0.81 0 0 1.11 180.38 292.3)'><text x='0' y='0' font-family="'Liberation Sans', Arial, sans-serif" font-weight='bold' font-size='34' fill='#D95319'>1</text></g>
<g id='la2' transform='matrix(1.09 0 0 1.11 178.21 374.9)'><text x='0' y='0' font-family="'Liberation Sans', Arial, sans-serif" font-weight='bold' font-size='34' fill='#EDB120'>2</text></g>
<g id='la3' transform='matrix(1.09 0 0 1.07 473.81 331.9)'><text x='0' y='0' font-family="'Liberation Sans', Arial, sans-serif" font-weight='bold' font-size='34' fill='#7E2F8E'>3</text></g>
<g id='la4' transform='matrix(0.98 0 0 1.15 634.3 299.4)'><text x='0' y='0' font-family="'Liberation Sans', Arial, sans-serif" font-weight='bold' font-size='34' fill='#77AC30'>4</text></g>
<g id='la5' transform='matrix(1.06 0 0 1.07 729.94 111.8)'><text x='0' y='0' font-family="'Liberation Sans', Arial, sans-serif" font-weight='bold' font-size='34' fill='#4DBEEE'>5</text></g>
<g id='la0' transform='matrix(1.05 0 0 1.16 768.05 480.7)'><text x='0' y='0' font-family="'Liberation Sans', Arial, sans-serif" font-weight='bold' font-size='34' fill='#0072BD'>0</text></g>
<g id='lb2' transform='matrix(1.18 0 0 1.09 1124.82 154.5)'><text x='0' y='0' font-family="'Liberation Sans', Arial, sans-serif" font-weight='bold' font-size='34' fill='#EDB120'>2</text></g>
<g id='lb1' transform='matrix(0.84 0 0 1.09 1220.81 342.5)'><text x='0' y='0' font-family="'Liberation Sans', Arial, sans-serif" font-weight='bold' font-size='34' fill='#D95319'>1</text></g>
<g id='lb3' transform='matrix(1.09 0 0 0.91 1216.41 406)'><text x='0' y='0' font-family="'Liberation Sans', Arial, sans-serif" font-weight='bold' font-size='34' fill='#7E2F8E'>3</text></g>
<g id='lb0' transform='matrix(1.09 0 0 1.14 1181.41 438.75)'><text x='0' y='0' font-family="'Liberation Sans', Arial, sans-serif" font-weight='bold' font-size='34' fill='#0072BD'>0</text></g>
<g id='lb4' transform='matrix(0.98 0 0 1.11 1504.4 474.9)'><text x='0' y='0' font-family="'Liberation Sans', Arial, sans-serif" font-weight='bold' font-size='34' fill='#77AC30'>4</text></g>
<g id='lb5' transform='matrix(1.02 0 0 1.06 1549.98 469)'><text x='0' y='0' font-family="'Liberation Sans', Arial, sans-serif" font-weight='bold' font-size='34' fill='#4DBEEE'>5</text></g>
<g id='lc1' transform='matrix(1.16 0 0 1.07 180.86 773.1)'><text x='0' y='0' font-family="'DejaVu Sans', 'Liberation Sans', sans-serif" font-weight='bold' font-size='34' fill='#D95319'>1</text></g>
<g id='lc2' transform='matrix(1.13 0 0 1.09 182.12 863.8)'><text x='0' y='0' font-family="'DejaVu Sans', 'Liberation Sans', sans-serif" font-weight='bold' font-size='34' fill='#EDB120'>2</text></g>
<g id='lc3' transform='matrix(1.08 0 0 1.06 466.84 819.4)'><text x='0' y='0' font-family="'DejaVu Sans', 'Liberation Sans', sans-serif" font-weight='bold' font-size='34' fill='#7E2F8E'>3</text></g>
<g id='lc4' transform='matrix(1.09 0 0 1.06 652.71 788)'><text x='0' y='0' font-family="'DejaVu Sans', 'Liberation Sans', sans-serif" font-weight='bold' font-size='34' fill='#77AC30'>4</text></g>
<g id='lc5' transform='matrix(1.13 0 0 1.04 727.62 613)'><text x='0' y='0' font-family="'DejaVu Sans', 'Liberation Sans', sans-serif" font-weight='bold' font-size='34' fill='#4DBEEE'>5</text></g>
<g id='lc0' transform='matrix(0.9 0 0 1.01 770.2 986)'><text x='0' y='0' font-family="'DejaVu Sans', 'Liberation Sans', sans-serif" font-weight='bold' font-size='34' fill='#0072BD'>0</text></g>
<g id='ld1' transform='matrix(1.18 0 0 1.12 923.77 581.6)'><text x='0' y='0' font-family="'DejaVu Sans', 'Liberation Sans', sans-serif" font-weight='bold' font-size='34' fill='#D95319'>1</text></g>
<g id='ld2' transform='matrix(1.12 0 0 1.08 1026.95 962.5)'><text x='0' y='0' font-family="'DejaVu Sans', 'Liberation Sans', sans-serif" font-weight='bold' font-size='34' fill='#EDB120'>2</text></g>
<g id='ld0' transform='matrix(1.17 0 0 1.11 1392.86 975.9)'><text x='0' y='0' font-family="'DejaVu Sans', 'Liberation Sans', sans-serif" font-weight='bold' font-size='34' fill='#0072BD'>0</text></g>
<g id='ld3' transform='matrix(1.15 0 0 1.11 1434.51 975.9)'><text x='0' y='0' font-family="'DejaVu Sans', 'Liberation Sans', sans-serif" font-weight='bold' font-size='34' fill='#7E2F8E'>3</text></g>
<g id='ld4' transform='matrix(1.09 0 0 1.11 1485.11 975.9)'><text x='0' y='0' font-family="'DejaVu Sans', 'Liberation Sans', sans-serif" font-weight='bold' font-size='34' fill='#77AC30'>4</text></g>
<g id='ld5' transform='matrix(1.23 0 0 1.11 1537.82 975.9)'><text x='0' y='0' font-family="'DejaVu Sans', 'Liberation Sans', sans-serif" font-weight='bold' font-size='34' fill='#4DBEEE'>5</text></g>
<g id='yla_l1' transform='matrix(0.97 0 0 0.94 34 368.78)'><text x='0' y='0' font-family="'Liberation Sans', Arial, sans-serif" font-weight='bold' font-size='36' fill='#262626' transform='rotate(-90)'>l</text></g>
<g id='yla_xi' transform='matrix(0.99 0 0 1.12 33.79 356.32)'><text x='0' y='0' font-family="'Liberation Serif', serif" font-weight='normal' font-style='italic' font-size='36' fill='#262626' transform='rotate(-90)'>ξ</text></g>
<g id='yla_dot' transform='matrix(0.67 0 0 0.78 33.97 335.27)'><text x='0' y='0' font-family="'Liberation Sans', Arial, sans-serif" font-weight='bold' font-size='36' fill='#262626' transform='rotate(-90)'>·</text></g>
<g id='yla_nab' transform='matrix(0.96 0 0 1.11 34.9 321.5)'><text x='0' y='0' font-family="'DejaVu Sans', sans-serif" font-weight='normal' font-size='36' fill='#262626' transform='rotate(-90)'>∇</text></g>
<g id='yla_s' transform='matrix(1.03 0 0 1.05 34.7 292.2)'><text x='0' y='0' font-family="'Liberation Sans', Arial, sans-serif" font-weight='bold' font-size='36' fill='#262626' transform='rotate(-90)'>s</text></g>
<g id='yla_l2' transform='matrix(0.97 0 0 1 34 270)'><text x='0' y='0' font-family="'Liberation Sans', Arial, sans-serif" font-weight='bold' font-size='36' fill='#262626' transform='rotate(-90)'>l</text></g>
<g id='yla_au' transform='matrix(0.94 0 0 0.98 33.36 248.96)'><text x='0' y='0' font-family="'Liberation Sans', Arial, sans-serif" font-weight='bold' font-size='36' fill='#262626' transform='rotate(-90)'>[a.u.]</text></g>
<g id='ylb_l1' transform='matrix(0.97 0 0 0.94 880.1 368.78)'><text x='0' y='0' font-family="'Liberation Sans', Arial, sans-serif" font-weight='bold' font-size='36' fill='#262626' transform='rotate(-90)'>l</text></g>
<g id='ylb_xi' transform='matrix(0.99 0 0 1.12 879.89 356.32)'><text x='0' y='0' font-family="'Liberation Serif', serif" font-weight='normal' font-style='italic' font-size='36' fill='#262626' transform='rotate(-90)'>ξ</text></g>
<g id='ylb_dot' transform='matrix(0.67 0 0 0.78 880.07 335.27)'><text x='0' y='0' font-family="'Liberation Sans', Arial, sans-serif" font-weight='bold' font-size='36' fill='#262626' transform='rotate(-90)'>·</text></g>
<g id='ylb_nab' transform='matrix(0.96 0 0 1.11 881 321.5)'><text x='0' y='0' font-family="'DejaVu Sans', sans-serif" font-weight='normal' font-size='36' fill='#262626' transform='rotate(-90)'>∇</text></g>
<g id='ylb_s' transform='matrix(1.03 0 0 1.05 880.8 292.2)'><text x='0' y='0' font-family="'Liberation Sans', Arial, sans-serif" font-weight='bold' font-size='36' fill='#262626' transform='rotate(-90)'>s</text></g>
<g id='ylb_l2' transform='matrix(0.97 0 0 1 880.1 270)'><text x='0' y='0' font-family="'Liberation Sans', Arial, sans-serif" font-weight='bold' font-size='36' fill='#262626' transform='rotate(-90)'>l</text></g>
<g id='ylb_au' transform='matrix(0.94 0 0 0.98 879.46 248.96)'><text x='0' y='0' font-family="'Liberation Sans', Arial, sans-serif" font-weight='bold' font-size='36' fill='#262626' transform='rotate(-90)'>[a.u.]</text></g>
<g id='ylc_l1' transform='matrix(0.99 0 0 0.8 33.08 871.2)'><text x='0' y='0' font-family="'DejaVu Sans', 'Liberation Sans', sans-serif" font-weight='bold' font-size='36' fill='#262626' transform='rotate(-90)'>|</text></g>
<g id='ylc_xi' transform='matrix(1.04 0 0 1.12 34.04 858.22)'><text x='0' y='0' font-family="'Liberation Serif', serif" font-weight='normal' font-style='italic' font-size='36' fill='#262626' transform='rotate(-90)'>ξ</text></g>
<g id='ylc_dot' transform='matrix(0.63 0 0 0.73 32.56 839.33)'><text x='0' y='0' font-family="'DejaVu Sans', 'Liberation Sans', sans-serif" font-weight='bold' font-size='36' fill='#262626' transform='rotate(-90)'>·</text></g>
<g id='ylc_nab' transform='matrix(0.98 0 0 1.12 34.4 825.1)'><text x='0' y='0' font-family="'DejaVu Sans', sans-serif" font-weight='normal' font-size='36' fill='#262626' transform='rotate(-90)'>∇</text></g>
<g id='ylc_s' transform='matrix(0.99 0 0 0.97 32.81 795.74)'><text x='0' y='0' font-family="'DejaVu Sans', 'Liberation Sans', sans-serif" font-weight='bold' font-size='36' fill='#262626' transform='rotate(-90)'>s</text></g>
<g id='ylc_l2' transform='matrix(0.99 0 0 0.88 33.08 772.92)'><text x='0' y='0' font-family="'DejaVu Sans', 'Liberation Sans', sans-serif" font-weight='bold' font-size='36' fill='#262626' transform='rotate(-90)'>|</text></g>
<g id='ylc_au' transform='matrix(1.01 0 0 1.01 33.34 749.32)'><text x='0' y='0' font-family="'DejaVu Sans', 'Liberation Sans', sans-serif" font-weight='bold' font-size='36' fill='#262626' transform='rotate(-90)'>[a.u.]</text></g>
<g id='yld_l1' transform='matrix(0.99 0 0 0.8 850.58 871.2)'><text x='0' y='0' font-family="'DejaVu Sans', 'Liberation Sans', sans-serif" font-weight='bold' font-size='36' fill='#262626' transform='rotate(-90)'>|</text></g>
<g id='yld_xi' transform='matrix(1.04 0 0 1.12 851.54 858.22)'><text x='0' y='0' font-family="'Liberation Serif', serif" font-weight='normal' font-style='italic' font-size='36' fill='#262626' transform='rotate(-90)'>ξ</text></g>
<g id='yld_dot' transform='matrix(0.63 0 0 0.73 850.06 839.33)'><text x='0' y='0' font-family="'DejaVu Sans', 'Liberation Sans', sans-serif" font-weight='bold' font-size='36' fill='#262626' transform='rotate(-90)'>·</text></g>
<g id='yld_nab' transform='matrix(0.98 0 0 1.12 851.9 825.1)'><text x='0' y='0' font-family="'DejaVu Sans', sans-serif" font-weight='normal' font-size='36' fill='#262626' transform='rotate(-90)'>∇</text></g>
<g id='yld_s' transform='matrix(0.99 0 0 0.97 850.31 795.74)'><text x='0' y='0' font-family="'DejaVu Sans', 'Liberation Sans', sans-serif" font-weight='bold' font-size='36' fill='#262626' transform='rotate(-90)'>s</text></g>
<g id='yld_l2' transform='matrix(0.99 0 0 0.88 850.58 772.92)'><text x='0' y='0' font-family="'DejaVu Sans', 'Liberation Sans', sans-serif" font-weight='bold' font-size='36' fill='#262626' transform='rotate(-90)'>|</text></g>
<g id='yld_au' transform='matrix(1.01 0 0 1.01 850.84 749.32)'><text x='0' y='0' font-family="'DejaVu Sans', 'Liberation Sans', sans-serif" font-weight='bold' font-size='36' fill='#262626' transform='rotate(-90)'>[a.u.]</text></g>
<g id='xlc_psi' transform='matrix(1.1 0 0 1.1 384.11 1085.3)'><text x='0' y='0' font-family="'Liberation Serif', serif" font-weight='normal' font-style='italic' font-size='36' fill='#262626'>ψ</text></g>
<g id='xlc_p' transform='matrix(1.19 0 0 1.04 409.31 1103.64)'><text x='0' y='0' font-family="'DejaVu Sans', 'Liberation Sans', sans-serif" font-weight='bold' font-size='26' fill='#262626'>p</text></g>
<g id='xlc_eq' transform='matrix(1.51 0 0 1.32 430.29 1093.4)'><text x='0' y='0' font-family="'Liberation Serif', serif" font-weight='normal' font-size='36' fill='#262626'>≡</text></g>
<g id='xlc_s' transform='matrix(1.04 0 0 0.97 460.02 1086.23)'><text x='0' y='0' font-family="'DejaVu Sans', 'Liberation Sans', sans-serif" font-weight='bold' font-size='36' fill='#262626'>s</text></g>
<g id='xlc_two' transform='matrix(1.13 0 0 1.06 481.84 1069.3)'><text x='0' y='0' font-family="'DejaVu Sans', 'Liberation Sans', sans-serif" font-weight='bold' font-size='26' fill='#262626'>2</text></g>
<g id='xld_psi' transform='matrix(1.1 0 0 1.1 1191.11 1085.3)'><text x='0' y='0' font-family="'Liberation Serif', serif" font-weight='normal' font-style='italic' font-size='36' fill='#262626'>ψ</text></g>
<g id='xld_p' transform='matrix(1.19 0 0 1.04 1216.31 1103.64)'><text x='0' y='0' font-family="'DejaVu Sans', 'Liberation Sans', sans-serif" font-weight='bold' font-size='26' fill='#262626'>p</text></g>
<g id='xld_eq' transform='matrix(1.51 0 0 1.32 1237.29 1093.4)'><text x='0' y='0' font-family="'Liberation Serif', serif" font-weight='normal' font-size='36' fill='#262626'>≡</text></g>
<g id='xld_s' transform='matrix(1.04 0 0 0.97 1267.02 1086.23)'><text x='0' y='0' font-family="'DejaVu Sans', 'Liberation Sans', sans-serif" font-weight='bold' font-size='36' fill='#262626'>s</text></g>
<g id='xld_two' transform='matrix(1.13 0 0 1.06 1288.84 1069.3)'><text x='0' y='0' font-family="'DejaVu Sans', 'Liberation Sans', sans-serif" font-weight='bold' font-size='26' fill='#262626'>2</text></g>
</svg></body></html>
